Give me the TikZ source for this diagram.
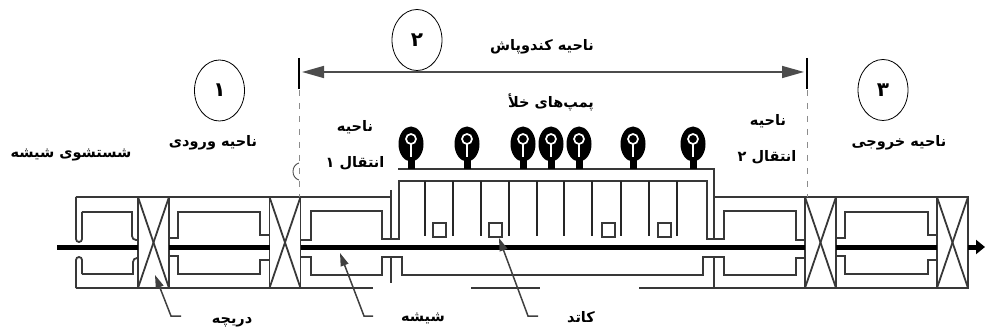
\documentclass[tikz,border=0pt]{standalone}
\usepackage{fontspec}
\usetikzlibrary{arrows.meta,positioning}
\newfontfamily\arabicfont[Script=Arabic]{DejaVu Sans}
\TeXXeTstate=1
\newcommand{\fatext}[1]{\arabicfont\bfseries\beginR #1\endR}
\tikzset{
  wall/.style={draw=black!78, line width=1.8pt},
  baffle/.style={draw=black!85, line width=1.9pt},
  glass/.style={draw=black, line width=5pt},
  valvebox/.style={wall, minimum width=31pt, minimum height=91pt, inner sep=0pt, outer sep=0pt},
  cathodebox/.style={wall, minimum width=13pt, minimum height=14pt, inner sep=0pt, outer sep=0pt},
  pumpbody/.style={ellipse, fill=black, minimum width=25pt, minimum height=35pt, inner sep=0pt},
  pumpeye/.style={circle, draw=white, line width=1.7pt, fill=black, minimum size=10pt, inner sep=0pt},
  zonecirc/.style={ellipse, draw=black, line width=0.8pt, minimum width=50pt, minimum height=61pt, inner sep=0pt},
  farsi/.style={font=\fontsize{14.5pt}{17pt}\selectfont, inner sep=0pt},
  farsidigit/.style={font=\fontsize{20pt}{22pt}\selectfont, inner sep=0pt},
  lead/.style={draw=black!75, line width=1.5pt, -{Triangle[length=13pt,width=8pt]}},
  span/.style={draw=black!70, line width=1.7pt, {Triangle[length=22pt,width=12pt]}-{Triangle[length=22pt,width=12pt]}},
  bound/.style={draw=black!45, line width=0.9pt, dash pattern=on 6pt off 7pt},
}
\usetikzlibrary{shapes.geometric}
\begin{document}
\begin{tikzpicture}[x=1pt,y=-1pt]
        \useasboundingbox (0,0) rectangle (985,331);

        \foreach \x/\n in {153.5/v1, 285/v2, 820.5/v3, 952.5/v4} {
          \node [valvebox] (\n) at (\x,242.5) {};
          \draw [wall] (\n.north west) -- (\n.south east);
          \draw [wall] (\n.north east) -- (\n.south west);
        }

        \coordinate (gstart) at (57,247);
        \coordinate (gend) at (985,247);
        \draw [glass] (gstart) -- (gstart-|v1.west);
        \draw [glass] (gstart-|v1.east) -- (gstart-|v2.west);
        \draw [glass] (gstart-|v2.east) -- (gstart-|v3.west);
        \draw [glass] (gstart-|v3.east) -- (gstart-|v4.west);
        \draw [draw=black, line width=5pt, -{Triangle[length=9pt,width=14pt]}] (gstart-|v4.east) -- (gend);

        % outer walls
        \draw [wall] (v1.north west) -- (76,197);
        \draw [wall] (v1.south west) -- (76,288);
        \draw [wall] (v1.north east) -- (v2.north west);
        \draw [wall] (v1.south east) -- (v2.south west);
        \draw [wall] (v3.north east) -- (v4.north west);
        \draw [wall] (v3.south east) -- (v4.south west);
        \draw [wall] (v2.north east) -- (391,197);
        \draw [wall] (714,197) -- (v3.north west);
        \draw [wall] (v2.south east) -- (373,288);
        \draw [wall] (471,288) -- (540,288);
        \draw [wall] (639,288) -- (v3.south west);

        % entry chamber
        \draw [wall, rounded corners=3pt] (76,197) -- (76,242) -- (82,242) -- (82,212);
        \draw [wall] (82,212) -- (132,212) -- (132,232);
        \draw [wall, rounded corners=4pt] (132,230) -- (132,240) -- (138,240);
        \draw [wall, rounded corners=3pt] (76,288) -- (76,257) -- (82,257) -- (82,274);
        \draw [wall] (82,274) -- (133,274) -- (133,266);
        \draw [wall, rounded corners=4pt] (133,268) -- (133,258) -- (138,258);

        \foreach \xa/\xb/\xc/\xd in {169/178/260/270, 836/845/928/937} {
          \draw [wall] (\xa,238) -- (\xb,238) -- (\xb,212) -- (\xc,212) -- (\xc,235) -- (\xd,235);
          \draw [wall] (\xa,256) -- (\xb,256) -- (\xb,274) -- (\xc,274) -- (\xc,260) -- (\xd,260);
        }

        % sputtering housing
        \draw [wall] (v2.east|-gstart) ++(0,-7) -- (311,240) -- (311,211) -- (382,211) -- (382,239)
          -- (399,239) -- (399,181) -- (707,181) -- (707,239) -- (724,239) -- (724,211)
          -- (796,211) -- (796,240) -- (805,240);
        \draw [wall] (398,169) -- (714,169) -- (714,239);
        \draw [wall] (391,190) -- (391,239);
        \draw [wall] (300,257) -- (311,257) -- (311,275) -- (382,275) -- (382,257) -- (402,257)
          -- (402,275) -- (703,275) -- (703,257) -- (724,257) -- (724,275) -- (796,275)
          -- (796,258) -- (805,258);
        \draw [wall] (391,257) -- (391,283);
        \draw [wall] (714,257) -- (714,288);

        \foreach \x in {425,453,481,509,537,564,592,621,649,677} {
          \draw [baffle] (\x,181) -- (\x,236);
        }
        \foreach \x/\n in {439.5/k1, 495.5/k2, 608.5/k3, 664.5/k4} {
          \node [cathodebox] (\n) at (\x,230) {};
        }

        \foreach \x/\n in {411/p1, 467/p2, 523/p3, 551/p4, 579/p5, 633/p6, 693/p7} {
          \node [pumpbody] (\n) at (\x,144) {};
          \fill [black] (\x-3.5,158) rectangle (\x+3.5,169);
          \draw [white, line width=2pt] (\x,144) -- (\x,157);
          \node [pumpeye] (\n e) at (\x,139) {};
        }

        % extent of the sputtering zone
        \coordinate (sl) at (299,72);
        \coordinate (sr) at (807,72);
        \draw [span] (sl) ++(3,0) -- ([xshift=-3pt]sr);
        \draw [black, line width=2.4pt] (299,58) -- (299,89);
        \draw [black, line width=2.4pt] (807,58) -- (807,89);
        \draw [bound] (299,90) -- (299,197);
        \draw [bound] (807,90) -- (807,197);
        \draw [black!70, line width=0.9pt] (299,163) .. controls (291,165) and (291,178) .. (299,180);

        \node [zonecirc] (c1) at (219.5,90.5) {};
        \node [zonecirc] (c2) at (417,40) {};
        \node [zonecirc] (c3) at (883,90) {};
        \node [farsidigit] at (c1) {\fatext{۱}};
        \node [farsidigit] at (c2) {\fatext{۲}};
        \node [farsidigit] at (c3) {\fatext{۳}};

        \node [farsi] (wash) at (71,155) {\fatext{شستشوی شیشه}};
        \node [farsi] (entry) at (213,143) {\fatext{ناحیه ورودی}};
        \node [farsi] (tr1a) at (355,127) {\fatext{ناحیه}};
        \node [farsi] (tr1b) at (355,163) {\fatext{انتقال ۱}};
        \node [farsi] (sput) at (542,47) {\fatext{ناحیه کندوپاش}};
        \node [farsi] (pumps) at (551,102) {\fatext{پمپ‌های خلأ}};
        \node [farsi] (tr2a) at (768,121) {\fatext{ناحیه}};
        \node [farsi] (tr2b) at (767,157) {\fatext{انتقال ۲}};
        \node [farsi] (exit) at (899,143) {\fatext{ناحیه خروجی}};
        \node [farsi] (door) at (232,322) {\fatext{دریچه}};
        \node [farsi] (sheet) at (423,318) {\fatext{شیشه}};
        \node [farsi] (cath) at (581,317) {\fatext{کاتد}};

        \coordinate (l1) at (181,316);
        \coordinate (l2) at (373,316);
        \coordinate (l3) at (538,316);
        \coordinate (t1) at (155,275);
        \coordinate (t2) at (340,253);
        \coordinate (t3) at (499,238);
        \draw [lead] (l1) -- ++(-10,0) -- (t1);
        \draw [lead] (l2) -- ++(-9,0) -- (t2);
        \draw [lead] (l3) -- ++(-10,0) -- (t3);
\end{tikzpicture}
\end{document}
